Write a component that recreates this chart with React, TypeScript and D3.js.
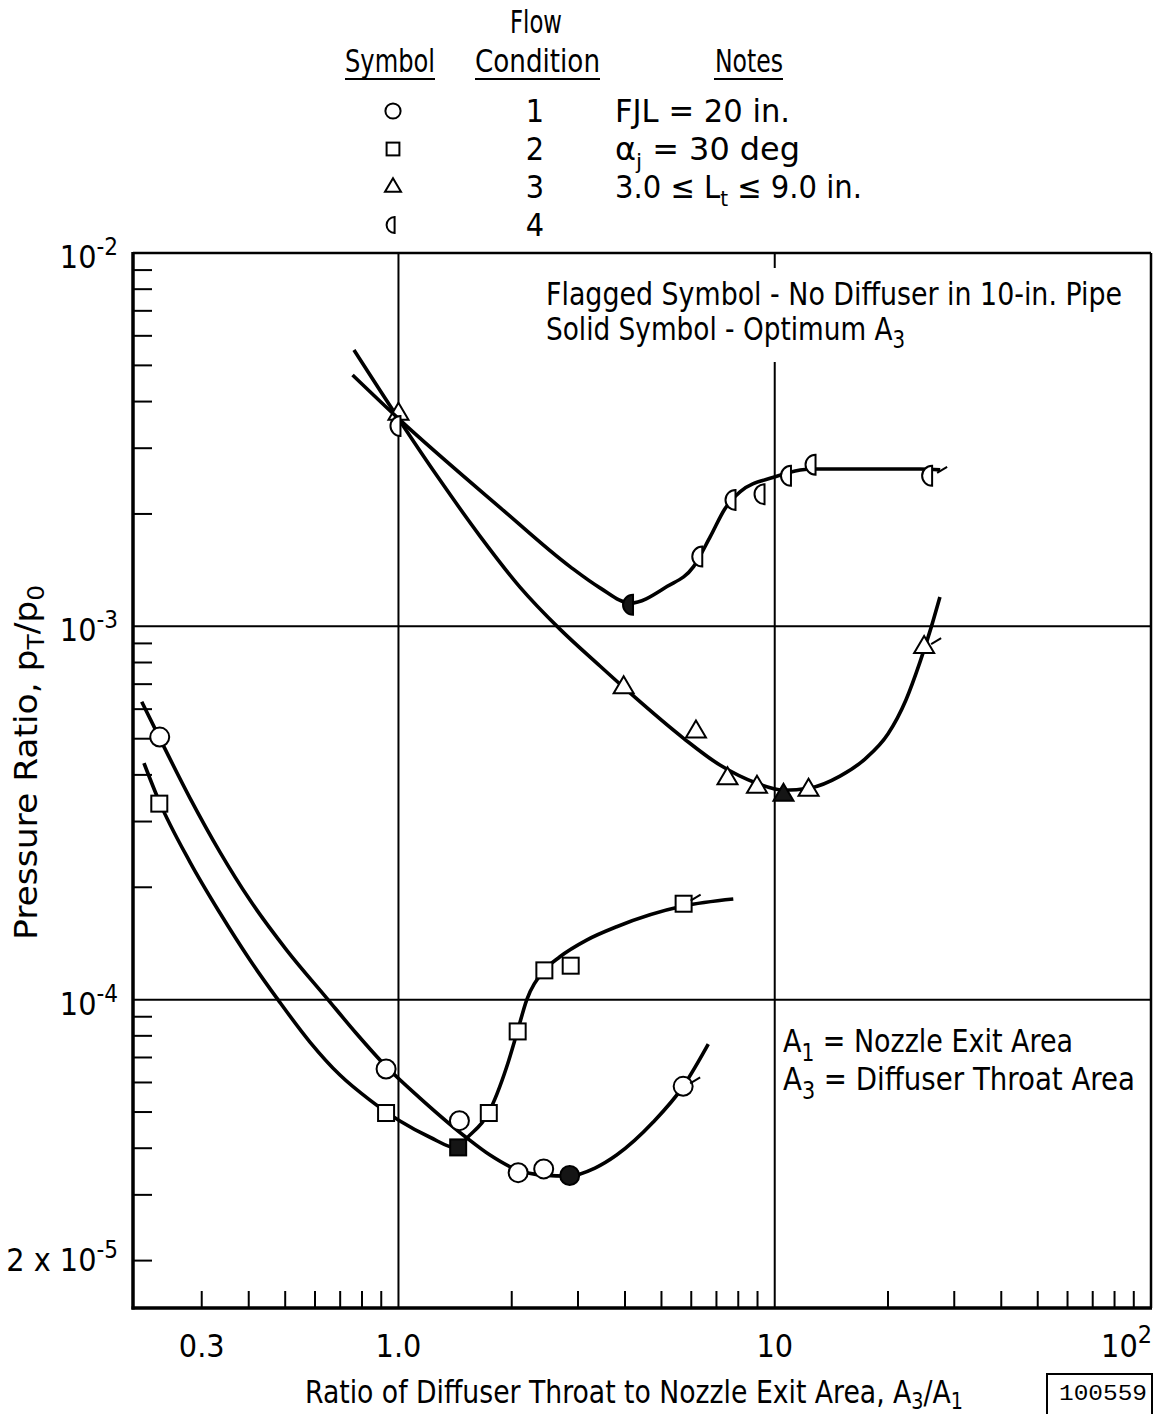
import React from "react";
import * as d3 from "d3";

const W = 1169;
const H = 1414;
const FONT =
  '"Liberation Sans Narrow", "DejaVu Sans Condensed", "Roboto Condensed", "DejaVu Sans", sans-serif';
const MONO = '"Liberation Mono", "DejaVu Sans Mono", monospace';

// flow condition 1 (circles) -- A3/A1 vs pT/p0
const cond1Points = [
  [0.232, 5.05e-4], [0.927, 6.52e-5], [1.452, 4.74e-5], [2.08, 3.44e-5],
  [2.432, 3.52e-5], [2.851, 3.38e-5], [5.71, 5.86e-5],
];
const cond1Solid = [5];
const cond1Flag = [6];
const cond1Curve = [
  [0.2078, 6.28e-4], [0.2314, 5.04e-4], [0.2792, 3.467e-4], [0.3354, 2.485e-4],
  [0.403, 1.848e-4], [0.5044, 1.358e-4], [0.6446, 1.01e-4], [0.771, 8.14e-5],
  [0.9247, 6.64e-5], [1.1406, 5.45e-5], [1.5206, 4.26e-5], [1.751, 3.835e-5],
  [2.074, 3.496e-5], [2.421, 3.389e-5], [2.839, 3.368e-5], [3.328, 3.539e-5],
  [3.8, 3.835e-5], [4.755, 4.7e-5], [5.693, 5.83e-5], [6.658, 7.6e-5],
];

// flow condition 2 (squares)
const cond2Points = [
  [0.2314, 3.35e-4], [0.927, 4.97e-5], [1.441, 4.02e-5], [1.738, 4.97e-5],
  [2.074, 8.22e-5], [2.442, 1.198e-4], [2.869, 1.233e-4], [5.726, 1.807e-4],
];
const cond2Solid = [2];
const cond2Flag = [7];
const cond2Curve = [
  [0.2107, 4.3e-4], [0.2305, 3.424e-4], [0.2792, 2.336e-4], [0.3354, 1.706e-4],
  [0.403, 1.277e-4], [0.4793, 9.97e-5], [0.5818, 7.7e-5], [0.6991, 6.28e-5],
  [0.84, 5.38e-5], [1.0092, 4.73e-5], [1.2128, 4.28e-5], [1.4368, 4.0e-5],
  [1.5177, 4.25e-5], [1.7323, 4.96e-5], [1.9397, 6.61e-5], [2.069, 8.2e-5],
  [2.191, 9.97e-5], [2.436, 1.195e-4], [2.686, 1.303e-4], [3.163, 1.444e-4],
  [3.8, 1.568e-4], [5.713, 1.781e-4], [7.76, 1.86e-4],
];

// flow condition 3 (triangles)
const cond3Points = [
  [1.0, 3.71e-3], [3.967, 6.87e-4], [6.175, 5.23e-4], [7.49, 3.92e-4],
  [8.97, 3.72e-4], [10.55, 3.54e-4], [12.3, 3.65e-4], [24.95, 8.8e-4],
];
const cond3Solid = [5];
const cond3Flag = [7];
const cond3Curve = [
  [0.7614, 5.497e-3], [1.0, 3.6e-3], [1.289, 2.465e-3], [1.6466, 1.745e-3],
  [2.103, 1.274e-3], [2.686, 9.83e-4], [3.432, 7.83e-4], [4.124, 6.63e-4],
  [5.713, 5.02e-4], [7.15, 4.25e-4], [8.953, 3.8e-4], [10.53, 3.64e-4],
  [12.41, 3.69e-4], [14.91, 3.97e-4], [17.37, 4.41e-4], [19.99, 5.145e-4],
  [22.32, 6.35e-4], [24.32, 8.02e-4], [26.01, 9.89e-4], [27.48, 1.198e-3],
];

// flow condition 4 (half circles)
const cond4Points = [
  [1.0, 3.44e-3], [4.15, 1.142e-3], [6.34, 1.538e-3], [7.77, 2.18e-3],
  [9.28, 2.26e-3], [10.91, 2.53e-3], [12.68, 2.71e-3], [25.88, 2.53e-3],
];
const cond4Solid = [1];
const cond4Flag = [7];
const cond4Curve = [
  [0.755, 4.71e-3], [1.0, 3.6e-3], [1.866, 2.077e-3], [2.862, 1.443e-3],
  [3.44, 1.266e-3], [4.13, 1.154e-3], [5.17, 1.278e-3], [6.085, 1.445e-3],
  [6.74, 1.739e-3], [7.39, 2.073e-3], [8.1, 2.296e-3], [9.93, 2.508e-3],
  [11.69, 2.624e-3], [12.68, 2.64e-3], [24.35, 2.64e-3], [27.52, 2.624e-3],
];

// axes
const xMinorTicks = [0.3, 0.4, 0.5, 0.6, 0.7, 0.8, 0.9, 2, 3, 4, 5, 6, 7, 8, 9, 20, 30, 40, 50, 60, 70, 80, 90];
const yMinorTicks = [
  2e-5, 3e-5, 4e-5, 5e-5, 6e-5, 7e-5, 8e-5, 9e-5,
  2e-4, 3e-4, 4e-4, 5e-4, 6e-4, 7e-4, 8e-4, 9e-4,
  2e-3, 3e-3, 4e-3, 5e-3, 6e-3, 7e-3, 8e-3, 9e-3,
];
const yGrid = [1e-3, 1e-4];
const xTickLabels = [
  { v: 0.3, t: "0.3" },
  { v: 1, t: "1.0" },
  { v: 10, t: "10" },
];
const yTickLabels = [
  { v: 1e-2, pre: "10", exp: "-2" },
  { v: 1e-3, pre: "10", exp: "-3" },
  { v: 1e-4, pre: "10", exp: "-4" },
  { v: 2e-5, pre: "2 x 10", exp: "-5" },
];

const legendConditions = ["1", "2", "3", "4"];
const legendShapes = ["circle", "square", "triangle", "half"];

const x = d3.scaleLog().domain([0.197, 100]).range([133, 1151]);
const y = d3.scaleLog().domain([1.493e-5, 1e-2]).range([1308, 253]);

const line = d3
  .line<number[]>()
  .x((d) => x(d[0]))
  .y((d) => y(d[1]))
  .curve(d3.curveMonotoneX);

function Marker({ shape, cx, cy, solid, flag, s = 1 }) {
  const fill = solid ? "#151515" : "#fff";
  const common = { fill, stroke: "#000", strokeWidth: 2 };
  let el;
  if (shape === "circle") el = <circle cx={0} cy={0} r={9.5 * s} {...common} />;
  else if (shape === "square")
    el = <rect x={-8 * s} y={-8 * s} width={16 * s} height={16 * s} {...common} />;
  else if (shape === "triangle")
    el = (
      <path
        d={`M0,${-11 * s} L${10 * s},${6 * s} L${-10 * s},${6 * s} Z`}
        {...common}
        strokeLinejoin="miter"
      />
    );
  else
    el = (
      <path
        d={`M${2 * s},${-10 * s} A${10 * s},${10 * s} 0 0 0 ${2 * s},${10 * s} Z`}
        {...common}
      />
    );
  return (
    <g transform={`translate(${cx},${cy})`}>
      {el}
      {flag && <line x1={7} y1={-3} x2={17} y2={-9} stroke="#000" strokeWidth={2} />}
    </g>
  );
}

function Series({ pts, curve, shape, solid, flag }) {
  return (
    <g>
      <path d={line(curve) || ""} fill="none" stroke="#000" strokeWidth={3.6} />
      {pts.map((p, i) => (
        <Marker
          key={i}
          shape={shape}
          cx={x(p[0])}
          cy={y(p[1])}
          solid={solid.includes(i)}
          flag={flag.includes(i)}
        />
      ))}
    </g>
  );
}

export default function App() {
  const [x0, x1] = x.range();
  const [yb, yt] = y.range();
  const fit = { lengthAdjust: "spacingAndGlyphs" };
  return (
    <svg
      width={W}
      height={H}
      style={{ position: "absolute", left: 0, top: 0, background: "#fff" }}
      fontFamily={FONT}
      fontStretch="condensed"
    >
      <rect width={W} height={H} fill="#fff" />

      {/* grid lines */}
      <line x1={x(1)} x2={x(1)} y1={yt} y2={yb} stroke="#000" strokeWidth={2} />
      <line x1={x(10)} x2={x(10)} y1={yt} y2={268} stroke="#000" strokeWidth={2} />
      <line x1={x(10)} x2={x(10)} y1={362} y2={yb} stroke="#000" strokeWidth={2} />
      {yGrid.map((v) => (
        <line key={v} x1={x0} x2={x1} y1={y(v)} y2={y(v)} stroke="#000" strokeWidth={2} />
      ))}

      {/* minor ticks */}
      {xMinorTicks.map((v) => (
        <line key={v} x1={x(v)} x2={x(v)} y1={yb} y2={yb - 17} stroke="#000" strokeWidth={2} />
      ))}
      {yMinorTicks.map((v) => (
        <line key={v} x1={x0} x2={x0 + 19} y1={y(v)} y2={y(v)} stroke="#000" strokeWidth={2} />
      ))}

      {/* frame */}
      <line x1={x0} x2={x1} y1={yt} y2={yt} stroke="#000" strokeWidth={2.5} />
      <line x1={x1} x2={x1} y1={yt} y2={yb} stroke="#000" strokeWidth={2.5} />
      <line x1={x0} x2={x0} y1={yt - 1} y2={yb + 1.5} stroke="#000" strokeWidth={3.5} />
      <line x1={x0 - 1.5} x2={x1 + 1} y1={yb} y2={yb} stroke="#000" strokeWidth={3.5} />

      {/* data */}
      <Series pts={cond1Points} curve={cond1Curve} shape="circle" solid={cond1Solid} flag={cond1Flag} />
      <Series pts={cond2Points} curve={cond2Curve} shape="square" solid={cond2Solid} flag={cond2Flag} />
      <Series pts={cond3Points} curve={cond3Curve} shape="triangle" solid={cond3Solid} flag={cond3Flag} />
      <Series pts={cond4Points} curve={cond4Curve} shape="half" solid={cond4Solid} flag={cond4Flag} />

      {/* y tick labels */}
      {yTickLabels.map((d) => (
        <text key={d.v} x={118} y={y(d.v) + (d.v === 2e-5 ? 10 : 15)} textAnchor="end" fontSize={32}>
          {d.pre}
          <tspan fontSize={24} dy={-13}>
            {d.exp}
          </tspan>
        </text>
      ))}

      {/* x tick labels */}
      {xTickLabels.map((d) => (
        <text key={d.v} x={x(d.v)} y={1357} textAnchor="middle" fontSize={32}>
          {d.t}
        </text>
      ))}
      <text x={1152} y={1357} textAnchor="end" fontSize={32}>
        10
        <tspan fontSize={25} dy={-14}>
          2
        </tspan>
      </text>

      {/* axis titles */}
      <text x={305} y={1403} fontSize={32} textLength={658} {...fit}>
        Ratio of Diffuser Throat to Nozzle Exit Area,{"  "}A
        <tspan fontSize={23} dy={6}>3</tspan>
        <tspan dy={-6}>/A</tspan>
        <tspan fontSize={23} dy={6}>1</tspan>
      </text>
      <text transform="translate(37,940) rotate(-90)" fontSize={32} textLength={355} {...fit}>
        Pressure Ratio,{"  "}p
        <tspan fontSize={23} dy={7}>T</tspan>
        <tspan dy={-7}>/p</tspan>
        <tspan fontSize={23} dy={7}>0</tspan>
      </text>

      {/* in-plot notes */}
      <text x={546} y={305} fontSize={32} textLength={576} {...fit}>
        Flagged Symbol - No Diffuser in 10-in. Pipe
      </text>
      <text x={546} y={340} fontSize={32} textLength={359} {...fit}>
        Solid Symbol - Optimum A<tspan fontSize={24} dy={8}>3</tspan>
      </text>
      <text x={783} y={1052} fontSize={32} textLength={290} {...fit}>
        A<tspan fontSize={24} dy={9}>1</tspan>
        <tspan dy={-9}> = Nozzle Exit Area</tspan>
      </text>
      <text x={783} y={1090} fontSize={32} textLength={352} {...fit}>
        A<tspan fontSize={24} dy={9}>3</tspan>
        <tspan dy={-9}> = Diffuser Throat Area</tspan>
      </text>

      {/* legend header */}
      <text x={510} y={33} fontSize={32} textLength={52} {...fit}>Flow</text>
      <text x={345} y={72} fontSize={32} textLength={90} {...fit}>Symbol</text>
      <text x={475} y={72} fontSize={32} textLength={125} {...fit}>Condition</text>
      <text x={715} y={72} fontSize={32} textLength={68} {...fit}>Notes</text>
      <line x1={345} x2={435} y1={79} y2={79} stroke="#000" strokeWidth={2} />
      <line x1={475} x2={600} y1={79} y2={79} stroke="#000" strokeWidth={2} />
      <line x1={714} x2={783} y1={79} y2={79} stroke="#000" strokeWidth={2} />

      {legendConditions.map((c, i) => {
        const cy = 111 + i * 38;
        return (
          <g key={c}>
            <Marker shape={legendShapes[i]} cx={393} cy={cy} solid={false} flag={false} s={0.8} />
            <text x={535} y={cy + 11} textAnchor="middle" fontSize={32}>
              {c}
            </text>
          </g>
        );
      })}
      <text x={615} y={122} fontSize={32} textLength={175} {...fit}>FJL = 20 in.</text>
      <text x={615} y={160} fontSize={32} textLength={185} {...fit}>
        α<tspan fontSize={22} dy={9}>j</tspan>
        <tspan dy={-9}>{"  "}= 30 deg</tspan>
      </text>
      <text x={615} y={198} fontSize={32} textLength={247} {...fit}>
        3.0 ≤ L<tspan fontSize={22} dy={8}>t</tspan>
        <tspan dy={-8}> ≤ 9.0 in.</tspan>
      </text>

      {/* figure number box */}
      <rect x={1047} y={1374} width={105} height={60} fill="#fff" stroke="#000" strokeWidth={2} />
      <text x={1059} y={1400} fontSize={22} fontFamily={MONO} textLength={88} {...fit}>
        100559
      </text>
    </svg>
  );
}
